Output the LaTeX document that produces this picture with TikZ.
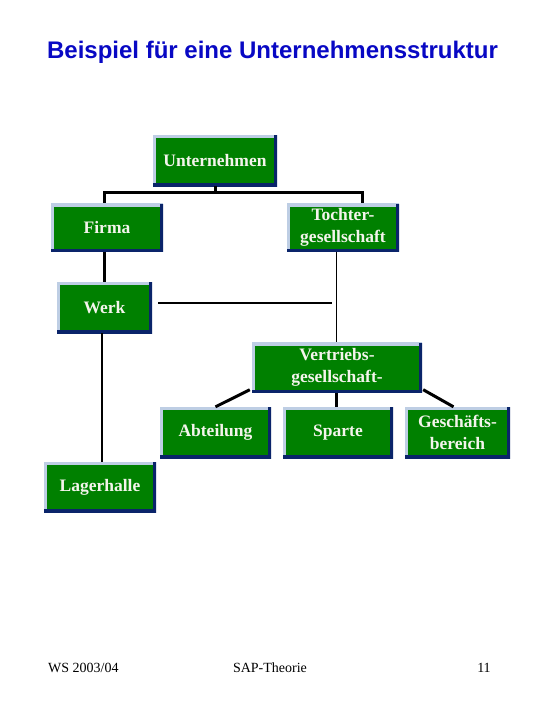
\documentclass[tikz,border=0pt]{standalone}
\usepackage{fontspec}
\setmainfont{Liberation Serif}
\newfontfamily\titlefont{Liberation Sans}
\definecolor{boxgreen}{RGB}{0,128,0}
\definecolor{bevlight}{RGB}{190,206,228}
\definecolor{bevdark}{RGB}{10,36,106}
\definecolor{boxtext}{RGB}{244,244,236}
\definecolor{titleblue}{RGB}{8,8,196}
\begin{document}
\begin{tikzpicture}[x=1pt,y=-1pt,
  orgbox/.style={fill=boxgreen, inner sep=0pt, align=center,
    text=boxtext, font=\bfseries\fontsize{17.5}{21.5}\selectfont,
    path picture={
      \draw[bevlight, line width=6pt] (path picture bounding box.south west) -- (path picture bounding box.north west) -- (path picture bounding box.north east);
      \draw[bevdark, line width=6pt] (path picture bounding box.north east) -- (path picture bounding box.south east) -- (path picture bounding box.south west);
    }},
  conn/.style={draw=black, line width=3pt},
  connmid/.style={draw=black, line width=2.2pt},
  connthin/.style={draw=black, line width=1pt},
  foot/.style={font=\fontsize{14}{16}\selectfont, inner sep=0pt}
  ]
\useasboundingbox (0,0) rectangle (540,720);
\fill[white] (0,0) rectangle (540,720);

\node[font=\titlefont\bfseries\fontsize{24}{28}\selectfont, text=titleblue, inner sep=0pt] (title) at (272.5,52.5) {Beispiel für eine Unternehmensstruktur};

\node[orgbox, minimum width=124pt, minimum height=51pt] (unt) at (215,160.5) {Unternehmen};
\node[orgbox, minimum width=112pt, minimum height=48pt] (firma) at (107,227.5) {Firma};
\node[orgbox, minimum width=112pt, minimum height=48pt] (toch) at (343,227.5) {Tochter-\\gesellschaft};
\node[orgbox, minimum width=95pt, minimum height=51pt] (werk) at (104.5,307.5) {Werk};
\node[orgbox, minimum width=170pt, minimum height=50pt] (vert) at (337,367.5) {Vertriebs-\\gesellschaft-};
\node[orgbox, minimum width=111pt, minimum height=51pt] (abt) at (215.5,432.5) {Abteilung};
\node[orgbox, minimum width=110pt, minimum height=51pt] (sparte) at (338,432.5) {Sparte};
\node[orgbox, minimum width=105pt, minimum height=51pt] (gesch) at (457.5,432.5) {Geschäfts-\\bereich};
\node[orgbox, minimum width=112pt, minimum height=50pt] (lager) at (100,487) {Lagerhalle};

\coordinate (bl) at (104,192);
\coordinate (br) at (362,192);
\coordinate (h1) at (158,303);
\coordinate (h2) at (332,303);
\coordinate (tv) at (336,0);

\draw[conn] (unt.south) -- (unt.south |- bl);
\draw[conn, line cap=rect] (bl) -- (br);
\draw[conn] (bl) -- (bl |- firma.north);
\draw[conn] (br) -- (br |- toch.north);
\draw[conn] (firma.south -| bl) -- (werk.north -| bl);
\draw[connmid] ([xshift=-2.5pt]werk.south) -- ([xshift=-2.5pt]werk.south |- lager.north);
\draw[connmid] (h1) -- (h2);
\draw[connthin] (toch.south -| tv) -- (vert.north -| tv);
\draw[conn] (vert.south -| tv) -- (sparte.north -| tv);
\draw[conn] ([shift={(-2,-3)}]vert.south west) -- (abt.north);
\draw[conn] ([shift={(1,-3)}]vert.south east) -- ([xshift=-4pt]gesch.north);

\node[foot, anchor=west] (ws) at (48,668) {WS 2003/04};
\node[foot] (sap) at (270,668) {SAP-Theorie};
\node[foot] (page) at (484,668) {11};
\end{tikzpicture}
\end{document}
